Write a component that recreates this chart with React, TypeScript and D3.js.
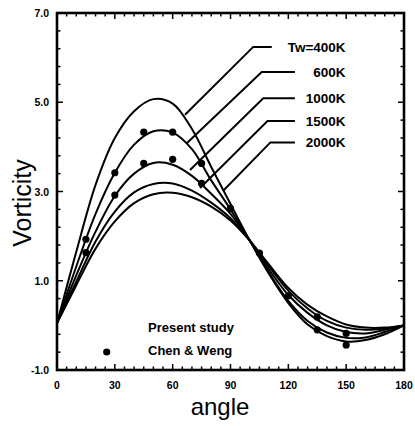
import React from "react";
import * as d3 from "d3";

// ---- data ----
const ANGLES = [0, 10, 20, 30, 40, 50, 60, 70, 80, 90, 100, 110, 120, 130, 140, 150, 160, 170, 180];
const TW400 = [0.05, 1.65, 3.15, 4.2, 4.8, 5.07, 4.97, 4.4, 3.55, 2.72, 1.9, 1.15, 0.5, 0.02, -0.24, -0.36, -0.33, -0.2, 0];
const TW600 = [0.05, 1.32, 2.5, 3.42, 4.05, 4.35, 4.32, 3.95, 3.25, 2.6, 1.9, 1.18, 0.55, 0.1, -0.16, -0.28, -0.27, -0.15, 0];
const TW1000 = [0.05, 1.12, 2.1, 2.9, 3.4, 3.64, 3.6, 3.35, 2.95, 2.5, 1.9, 1.25, 0.68, 0.28, 0.0, -0.15, -0.18, -0.1, 0];
const TW1500 = [0.05, 0.98, 1.88, 2.55, 2.98, 3.17, 3.18, 3.02, 2.75, 2.4, 1.9, 1.32, 0.78, 0.38, 0.1, -0.05, -0.1, -0.07, 0];
const TW2000 = [0.05, 0.9, 1.72, 2.33, 2.74, 2.94, 2.97, 2.87, 2.66, 2.35, 1.9, 1.36, 0.84, 0.46, 0.2, 0.02, -0.05, -0.05, 0];
const SERIES = [TW400, TW600, TW1000, TW1500, TW2000];
const SERIES_LABELS = ["Tw=400K", "600K", "1000K", "1500K", "2000K"];

// Chen & Weng points
const CW_ANGLE = [15, 15, 30, 30, 45, 45, 60, 60, 75, 75, 90, 105, 120, 135, 135, 150, 150];
const CW_VALUE = [1.93, 1.63, 3.42, 2.92, 4.33, 3.63, 4.33, 3.72, 3.63, 3.18, 2.62, 1.62, 0.66, 0.19, -0.1, -0.18, -0.44];

// label leader lines (data coords)
const LEADER_END_ANGLE = [66.4, 67.3, 69, 74.2, 86.1];
const LEADER_END_VALUE = [4.72, 4.08, 3.48, 3.08, 3.01];
const LEADER_CORNER_ANGLE = [101.8, 106.2, 107, 109.2, 110.7];
const LEADER_CORNER_VALUE = [6.24, 5.68, 5.09, 4.58, 4.1];
const LEADER_HEND_ANGLE = [111.4, 123.4, 123.4, 123.4, 123.4];
const LABEL_ANGLE = 149.7;

const X_TICKS = [0, 30, 60, 90, 120, 150, 180];
const Y_TICKS = [-1, 1, 3, 5, 7];
const Y_TICK_LABELS = ["-1.0", "1.0", "3.0", "5.0", "7.0"];

const W = 415;
const H = 426;
const FONT = "'Liberation Sans', Arial, Helvetica, sans-serif";

export default function App() {
  const x = d3.scaleLinear().domain([0, 180]).range([57, 404]);
  const y = d3.scaleLinear().domain([-1, 7]).range([370, 13]);

  const line = d3
    .line<number>()
    .x((_, i) => x(ANGLES[i]))
    .y((d) => y(d))
    .curve(d3.curveCatmullRom.alpha(0.5));

  const xMinor = d3.range(0, 181, 5);
  const yMinor = d3.range(0, 21).map((k) => -1 + k * 0.4);

  const [x0, x1] = x.range();
  const [y0, y1] = y.range();
  const major = 6;
  const minor = 3.5;

  return (
    <svg width={W} height={H} style={{ position: "absolute", left: 0, top: 0, background: "#fff" }}>
      <rect x={0} y={0} width={W} height={H} fill="#fff" />
      {/* curves */}
      {SERIES.map((s, i) => (
        <path key={i} d={line(s) || ""} fill="none" stroke="#000" strokeWidth={2} />
      ))}
      {/* data points */}
      {CW_ANGLE.map((a, i) => (
        <circle key={i} cx={x(a)} cy={y(CW_VALUE[i])} r={3.6} fill="#000" />
      ))}
      {/* leader lines */}
      {SERIES_LABELS.map((lab, i) => {
        const cx = x(LEADER_CORNER_ANGLE[i]);
        const cy = y(LEADER_CORNER_VALUE[i]);
        return (
          <g key={lab}>
            <polyline
              points={`${x(LEADER_END_ANGLE[i])},${y(LEADER_END_VALUE[i])} ${cx},${cy} ${x(LEADER_HEND_ANGLE[i])},${cy}`}
              fill="none"
              stroke="#000"
              strokeWidth={2}
            />
            <text
              x={x(LABEL_ANGLE)}
              y={cy + 4.8}
              textAnchor="end"
              fontFamily={FONT}
              fontWeight="bold"
              fontSize={13.5}
            >
              {lab}
            </text>
          </g>
        );
      })}
      {/* frame */}
      <rect x={x0} y={y1} width={x1 - x0} height={y0 - y1} fill="none" stroke="#000" strokeWidth={2.6} />
      {/* x ticks bottom & top */}
      {xMinor.map((t) => {
        const len = t % 30 === 0 ? major : minor;
        return (
          <g key={"xt" + t}>
            <line x1={x(t)} x2={x(t)} y1={y0} y2={y0 - len} stroke="#000" strokeWidth={1.5} />
            <line x1={x(t)} x2={x(t)} y1={y1} y2={y1 + len} stroke="#000" strokeWidth={1.5} />
          </g>
        );
      })}
      {/* y ticks left & right */}
      {yMinor.map((t, k) => {
        const len = k % 5 === 0 ? major : minor;
        return (
          <g key={"yt" + k}>
            <line x1={x0} x2={x0 + len} y1={y(t)} y2={y(t)} stroke="#000" strokeWidth={1.5} />
            <line x1={x1} x2={x1 - len} y1={y(t)} y2={y(t)} stroke="#000" strokeWidth={1.5} />
          </g>
        );
      })}
      {/* tick labels */}
      {X_TICKS.map((t) => (
        <text
          key={"xl" + t}
          x={x(t)}
          y={389}
          textAnchor="middle"
          fontFamily={FONT}
          fontWeight="bold"
          fontSize={10.5}
        >
          {t}
        </text>
      ))}
      {Y_TICKS.map((t, i) => (
        <text
          key={"yl" + t}
          x={49}
          y={y(t) + 4}
          textAnchor="end"
          fontFamily={FONT}
          fontWeight="bold"
          fontSize={10.5}
        >
          {Y_TICK_LABELS[i]}
        </text>
      ))}
      {/* axis titles */}
      <text x={220} y={415} textAnchor="middle" fontFamily={FONT} fontSize={24}>
        angle
      </text>
      <text
        transform={`translate(31,203) rotate(-90)`}
        textAnchor="middle"
        fontFamily={FONT}
        fontSize={25}
      >
        Vorticity
      </text>
      {/* legend */}
      <text x={148} y={332} fontFamily={FONT} fontWeight="bold" fontSize={13}>
        Present study
      </text>
      <circle cx={106.7} cy={352} r={3.6} fill="#000" />
      <text x={148} y={354.5} fontFamily={FONT} fontWeight="bold" fontSize={13}>
        Chen &amp; Weng
      </text>
    </svg>
  );
}
